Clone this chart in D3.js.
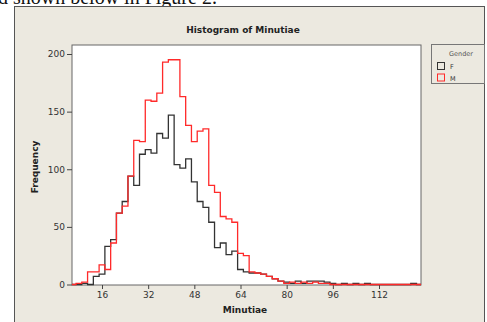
<!DOCTYPE html>
<html><head><meta charset="utf-8">
<script src="https://cdn.jsdelivr.net/npm/d3@7"></script>
<style>html,body{margin:0;padding:0;background:#fff;overflow:hidden}</style>
</head><body>
<script>
// ---- data ----
const binMids = [8,10,12,14,16,18,20,22,24,26,28,30,32,34,36,38,40,42,44,46,48,50,52,54,56,58,60,62,64,66,68,70,72,74,76,78,80,82,84,86,88,90,92,94,96,98,100,102,104,106,108,110,112,114,116,118,120,122,124];
const binWidth = 2;
const femaleCounts = [0,1,0,7,9,33,39,62,72,94,86,113,117,114,131,127,147,104,101,109,89,72,67,54,32,36,26,29,13,11,10,10,9,7,5,3,2,1,3,1,3,3,3,2,1,0,1,0,1,0,1,0,0,0,0,0,0,0,1];
const maleCounts   = [1,2,11,11,17,13,36,62,68,94,125,124,160,159,166,193,195,195,163,138,124,133,135,86,80,59,57,54,27,25,11,10,9,7,5,3,1,2,1,2,1,2,1,1,0,0,0,0,0,0,0,0,0,0,0,0,0,0,0];
const xTicks = [16,32,48,64,80,96,112];
const yTicks = [0,50,100,150,200];
const seriesNames = ["F","M"];
const seriesColors = ["#333333","#ff2a2a"];

const W = 487, H = 322;
const svg = d3.select("body").append("svg").attr("width",W).attr("height",H);

// document text clipped at top
svg.append("text").attr("x",-2).attr("y",4)
  .style("font-family","'Liberation Serif','DejaVu Serif',serif").style("font-size","20px").attr("fill","#111")
  .text("d shown below in Figure 2.");

// panel
svg.append("rect").attr("x",14.5).attr("y",6.5).attr("width",470).attr("height",330)
  .attr("fill","#ece9e0").attr("stroke","#555").attr("stroke-width",1);

const x = d3.scaleLinear().domain([16,112]).range([102,379]);
const y = d3.scaleLinear().domain([0,200]).range([284.5,54]);
const fx0 = 72, fx1 = 421, fy0 = 45, fy1 = 285;

svg.append("rect").attr("x",fx0).attr("y",fy0).attr("width",fx1-fx0).attr("height",fy1-fy0)
  .attr("fill","#fff").attr("stroke","#666").attr("stroke-width",1);

// title
svg.append("text").attr("x",243).attr("y",33).attr("text-anchor","middle")
  .style("font-family","'DejaVu Sans',sans-serif").style("font-weight","bold").style("font-size","9px")
  .attr("fill","#222").text("Histogram of Minutiae");

// axes
const xAxis = svg.append("g").attr("transform",`translate(0,${fy1})`)
  .call(d3.axisBottom(x).tickValues(xTicks).tickSize(4).tickPadding(3));
const yAxis = svg.append("g").attr("transform",`translate(${fx0},0)`)
  .call(d3.axisLeft(y).tickValues(yTicks).tickSize(5).tickPadding(2));
[xAxis,yAxis].forEach(g=>{
  g.select(".domain").remove();
  g.selectAll("line").attr("stroke","#444");
  g.selectAll("text").style("font-family","'DejaVu Sans',sans-serif").style("font-size","9px").attr("fill","#333");
});

svg.append("text").attr("x",245).attr("y",313).attr("text-anchor","middle")
  .style("font-family","'DejaVu Sans',sans-serif").style("font-weight","bold").style("font-size","9px")
  .attr("fill","#222").text("Minutiae");
svg.append("text").attr("transform","translate(38,167) rotate(-90)").attr("text-anchor","middle")
  .style("font-family","'DejaVu Sans',sans-serif").style("font-weight","bold").style("font-size","9px")
  .attr("fill","#222").text("Frequency");

// histogram outlines
svg.append("clipPath").attr("id","clip").append("rect")
  .attr("x",fx0).attr("y",fy0-2).attr("width",fx1-fx0).attr("height",fy1-fy0+3);
const line = d3.line().x(d=>x(d[0])).y(d=>y(d[1])).curve(d3.curveStepAfter);
function pts(counts){
  const p = [[x.invert(fx0),0]];
  binMids.forEach((m,i)=>p.push([m-binWidth/2, counts[i]]));
  p.push([binMids[binMids.length-1]+binWidth/2, 0]);
  p.push([x.invert(fx1),0]);
  return p;
}
const g = svg.append("g").attr("clip-path","url(#clip)");
[femaleCounts, maleCounts].forEach((c,i)=>{
  g.append("path").attr("d",line(pts(c))).attr("fill","none")
    .attr("stroke",seriesColors[i]).attr("stroke-width",1.3);
});

// legend
svg.append("rect").attr("x",431.5).attr("y",44.5).attr("width",53).attr("height",39)
  .attr("fill","#ece9e0").attr("stroke","#777");
svg.append("text").attr("x",461).attr("y",56).attr("text-anchor","middle")
  .style("font-family","'DejaVu Sans',sans-serif").style("font-size","6.5px").attr("fill","#555").text("Gender");
seriesNames.forEach((n,i)=>{
  const yy = 62 + i*11.5;
  svg.append("rect").attr("x",437.5).attr("y",yy+0.5).attr("width",7).attr("height",7)
    .attr("fill","none").attr("stroke",seriesColors[i]).attr("stroke-width",1);
  svg.append("text").attr("x",450).attr("y",yy+7).style("font-family","'DejaVu Sans',sans-serif")
    .style("font-size","6.5px").attr("fill","#333").text(n);
});
</script>
</body></html>
